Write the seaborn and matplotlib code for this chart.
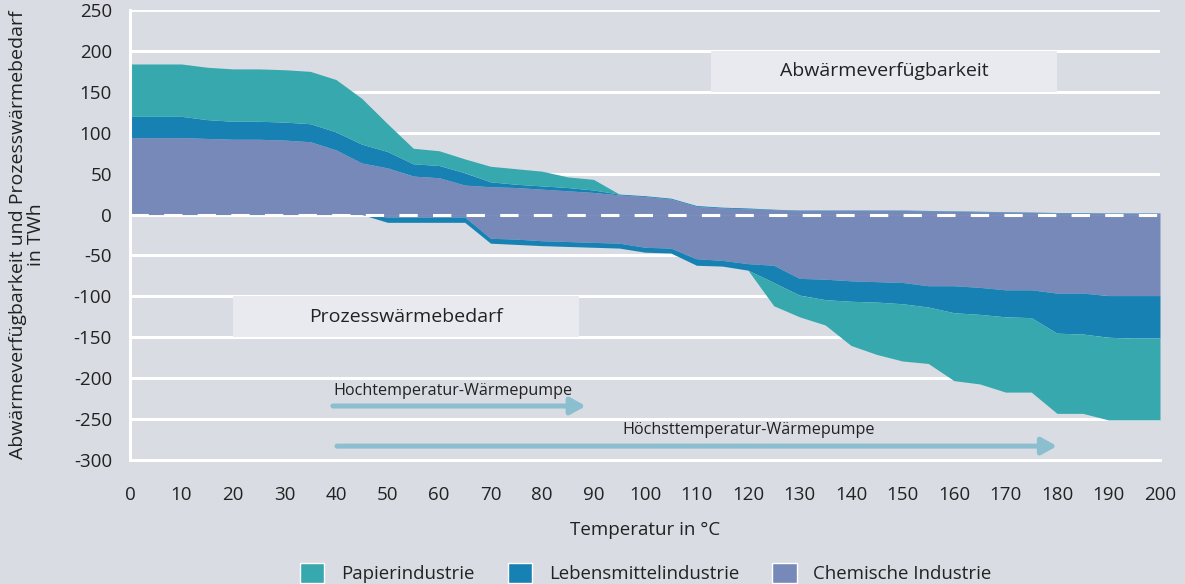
import numpy as np
import seaborn as sns
import matplotlib
import matplotlib.pyplot as plt
from matplotlib.patches import Rectangle, Patch

matplotlib.use('Agg')

# temperature grid in degrees C
temps = list(range(0, 205, 5))

# waste heat availability (positive), TWh per industry
avail_chem = [94, 94, 94, 93, 92, 92, 91, 89, 79, 63, 57, 47, 45, 36, 34, 33, 31, 29, 27, 24,
              22, 19, 10, 8, 7, 6, 5, 5, 5, 5, 5, 4.5, 4, 3.5, 3, 2.5, 2, 2, 1.5, 1.5, 1.5]
avail_food = [26, 26, 26, 23, 22, 22, 22, 22, 22, 23, 20, 15, 15, 15, 6, 4, 4, 4, 3, 1,
              1, 1, 1, 1, 1, 0.5, 0.5, 0.5, 0.5, 0.5, 0.5, 0.5, 0.5, 0.5, 0.5, 0.5, 0.5, 0.5, 0.5, 0.5, 0.5]
avail_paper = [64, 64, 64, 64, 64, 64, 64, 64, 64, 56, 34, 19, 18, 17, 19, 19, 18, 13, 13, 0,
               0, 0, 0, 0, 0, 0, 0, 0, 0, 0, 0, 0, 0, 0, 0, 0, 0, 0, 0, 0, 0]

# process heat demand (negative), TWh per industry
demand_chem = [0, 0, 0, 0, 0, 0, 0, 0, 0, 0, -3, -3, -3, -3, -29, -30, -32, -33, -34, -35,
               -40, -41, -54, -56, -60, -62, -78, -79, -81, -82, -83, -87, -87, -89, -92, -92,
               -96, -96, -99, -99, -99]
demand_food = [0, 0, 0, 0, 0, 0, 0, 0, 0, 0, -6.5, -6.5, -6.5, -6.5, -6, -6.5, -6, -6, -6, -6,
               -6, -6, -8, -7, -8, -21, -20.5, -25, -25, -25, -26, -26, -33, -33, -33, -34,
               -49, -50, -51, -52, -52]
demand_paper = [0, 0, 0, 0, 0, 0, 0, 0, 0, 0, 0, 0, 0, 0, 0, 0, 0, 0, 0, 0,
                0, 0, 0, 0, 0, -28.5, -26.5, -31, -54, -64, -70, -69, -83, -85, -92, -91,
                -98, -97, -101, -100, -100]

labels = ["Papierindustrie", "Lebensmittelindustrie", "Chemische Industrie"]
y_ticks = list(range(-300, 300, 50))
x_ticks = list(range(0, 210, 10))

BG = "#d9dce3"
palette = sns.color_palette(["#37a9ae", "#1881b4", "#7689b9"])
c_paper, c_food, c_chem = palette
arrow_col = "#8bbecf"
text_col = "#222222"

sns.set_style("white", {"axes.facecolor": BG, "figure.facecolor": BG})
plt.rcParams['font.family'] = ['Open Sans', 'DejaVu Sans']
plt.rcParams['axes.unicode_minus'] = False

fig = plt.figure(figsize=(11.85, 5.84), dpi=100)
ax = fig.add_axes([0.1097, 0.2123, 0.8692, 0.7706])

ax.stackplot(temps, avail_chem, avail_food, avail_paper,
             colors=[c_chem, c_food, c_paper], linewidth=0, zorder=3)
ax.stackplot(temps, demand_chem, demand_food, demand_paper,
             colors=[c_chem, c_food, c_paper], linewidth=0, zorder=3)

for y in y_ticks[1:]:
	ax.axhline(y, color="white", lw=2.2, zorder=1)
ax.axhline(0, color="white", lw=2.2, dashes=(6, 5), zorder=4)

# label boxes
ax.add_patch(Rectangle((112.8, 150), 67.2, 50, facecolor="#e9eaef", edgecolor="none", zorder=2))
ax.text(146.4, 175, "Abwärmeverfügbarkeit", ha="center", va="center", fontsize=14,
        fontweight="medium", color=text_col, zorder=5)
ax.add_patch(Rectangle((20, -150), 67.2, 50, facecolor="#e9eaef", edgecolor="none", zorder=2))
ax.text(53.6, -125, "Prozesswärmebedarf", ha="center", va="center", fontsize=14,
        fontweight="medium", color=text_col, zorder=5)

# heat pump ranges
ax.annotate("", xy=(88.5, -234), xytext=(39.4, -234),
            arrowprops=dict(arrowstyle="-|>,head_length=0.9,head_width=0.5", color=arrow_col,
                            lw=3.6, shrinkA=0, shrinkB=0), zorder=5)
ax.text(39.4, -226, "Hochtemperatur-Wärmepumpe", ha="left", va="bottom", fontsize=11.6,
        color=text_col, zorder=5)
ax.annotate("", xy=(180, -283), xytext=(40.2, -283),
            arrowprops=dict(arrowstyle="-|>,head_length=0.9,head_width=0.5", color=arrow_col,
                            lw=3.6, shrinkA=0, shrinkB=0), zorder=5)
ax.text(95.7, -273, "Höchsttemperatur-Wärmepumpe", ha="left", va="bottom", fontsize=11.6,
        color=text_col, zorder=5)

ax.set_xlim(0, 200)
ax.set_ylim(-300, 250)
ax.set_xticks(x_ticks)
ax.set_yticks(y_ticks)
ax.tick_params(axis="both", colors="white", length=5, width=2, labelsize=13.5,
               labelcolor=text_col)
ax.tick_params(axis="x", pad=14)
ax.tick_params(axis="y", pad=8)
for side in ["top", "right"]:
	ax.spines[side].set_visible(False)
for side in ["left", "bottom"]:
	ax.spines[side].set_color("white")
	ax.spines[side].set_linewidth(2.2)
	ax.spines[side].set_zorder(6)

ax.set_xlabel("Temperatur in °C", fontsize=13.5, color=text_col, labelpad=12)
ax.set_ylabel("Abwärmeverfügbarkeit und Prozesswärmebedarf\nin TWh", fontsize=14,
              color=text_col, linespacing=1.0)
ax.yaxis.set_label_coords(-0.083, 0.5)

handles = [Patch(facecolor=c, edgecolor="white", linewidth=1) for c in [c_paper, c_food, c_chem]]
fig.legend(handles, labels, loc="lower center", ncol=3, frameon=False, fontsize=13.4,
           bbox_to_anchor=(0.545, -0.027), handlelength=1.3, handleheight=1.3,
           columnspacing=1.8, handletextpad=0.9, labelcolor=text_col)

fig.savefig("out.png", dpi=100, facecolor=BG)
